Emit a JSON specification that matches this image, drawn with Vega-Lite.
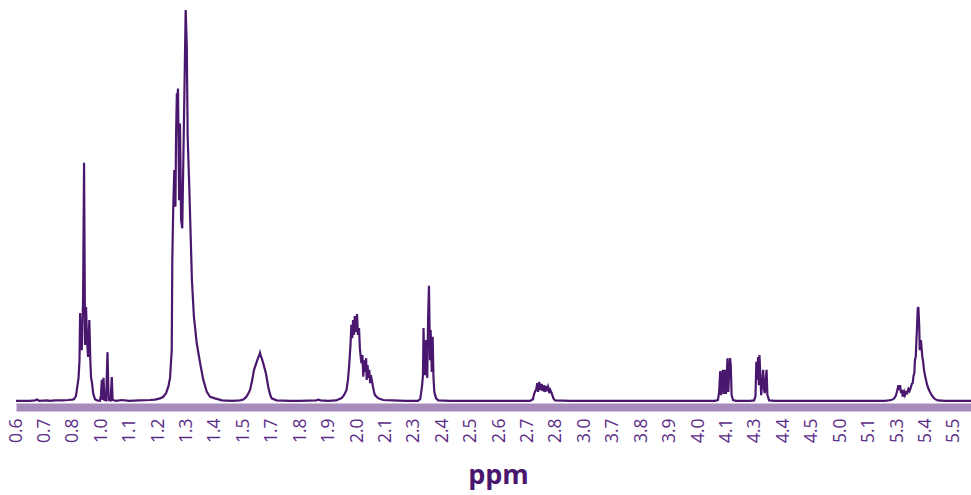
{
  "$schema": "https://vega.github.io/schema/vega-lite/v6.json",
  "width": 955,
  "height": 402,
  "autosize": "none",
  "padding": {"left": 16, "top": 0, "right": 0, "bottom": 93},
  "background": "white",
  "config": {"view": {"stroke": null}},
  "data": {"values": [
    {"ppm": 0.600, "intensity": 0.3}, {"ppm": 0.649, "intensity": 0.3}, {"ppm": 0.667, "intensity": 0.4}, {"ppm": 0.674, "intensity": 0.6}, {"ppm": 0.681, "intensity": 0.3},
    {"ppm": 0.709, "intensity": 0.4}, {"ppm": 0.720, "intensity": 0.3}, {"ppm": 0.737, "intensity": 0.4}, {"ppm": 0.765, "intensity": 0.4}, {"ppm": 0.783, "intensity": 0.5}, {"ppm": 0.797, "intensity": 0.6},
    {"ppm": 0.808, "intensity": 0.7}, {"ppm": 0.822, "intensity": 1.5}, {"ppm": 0.833, "intensity": 4.2}, {"ppm": 0.840, "intensity": 6.0}, {"ppm": 0.847, "intensity": 10.4}, {"ppm": 0.851, "intensity": 22.1},
    {"ppm": 0.858, "intensity": 14.2}, {"ppm": 0.863, "intensity": 12.9}, {"ppm": 0.872, "intensity": 25.4}, {"ppm": 0.879, "intensity": 59.5}, {"ppm": 0.886, "intensity": 14.2}, {"ppm": 0.893, "intensity": 23.6},
    {"ppm": 0.900, "intensity": 15.4}, {"ppm": 0.907, "intensity": 11.2}, {"ppm": 0.916, "intensity": 20.4}, {"ppm": 0.923, "intensity": 10.4}, {"ppm": 0.928, "intensity": 6.2}, {"ppm": 0.935, "intensity": 4.7},
    {"ppm": 0.944, "intensity": 2.0}, {"ppm": 0.956, "intensity": 0.7}, {"ppm": 0.970, "intensity": 0.4}, {"ppm": 0.991, "intensity": 0.3}, {"ppm": 0.998, "intensity": 1.7},
    {"ppm": 1.002, "intensity": 5.5}, {"ppm": 1.005, "intensity": 0.5}, {"ppm": 1.008, "intensity": 6.0}, {"ppm": 1.011, "intensity": 0.5}, {"ppm": 1.017, "intensity": 0.4}, {"ppm": 1.022, "intensity": 12.4},
    {"ppm": 1.026, "intensity": 0.5}, {"ppm": 1.033, "intensity": 0.4}, {"ppm": 1.037, "intensity": 6.2}, {"ppm": 1.040, "intensity": 0.5}, {"ppm": 1.052, "intensity": 0.3}, {"ppm": 1.073, "intensity": 0.5},
    {"ppm": 1.098, "intensity": 0.3}, {"ppm": 1.136, "intensity": 0.4}, {"ppm": 1.171, "intensity": 0.5}, {"ppm": 1.189, "intensity": 0.6},
    {"ppm": 1.207, "intensity": 0.9}, {"ppm": 1.218, "intensity": 1.3}, {"ppm": 1.228, "intensity": 2.2}, {"ppm": 1.236, "intensity": 3.8}, {"ppm": 1.242, "intensity": 6.0}, {"ppm": 1.248, "intensity": 12.9},
    {"ppm": 1.250, "intensity": 35.3}, {"ppm": 1.252, "intensity": 43.6}, {"ppm": 1.254, "intensity": 50.2}, {"ppm": 1.257, "intensity": 57.7}, {"ppm": 1.261, "intensity": 48.6}, {"ppm": 1.263, "intensity": 65.2},
    {"ppm": 1.266, "intensity": 76.8}, {"ppm": 1.268, "intensity": 75.1}, {"ppm": 1.270, "intensity": 78.0}, {"ppm": 1.274, "intensity": 50.2}, {"ppm": 1.277, "intensity": 69.3}, {"ppm": 1.281, "intensity": 45.3},
    {"ppm": 1.285, "intensity": 43.2}, {"ppm": 1.289, "intensity": 61.0}, {"ppm": 1.294, "intensity": 83.4}, {"ppm": 1.297, "intensity": 97.5}, {"ppm": 1.301, "intensity": 88.4},
    {"ppm": 1.304, "intensity": 66.0}, {"ppm": 1.310, "intensity": 52.7}, {"ppm": 1.315, "intensity": 40.3}, {"ppm": 1.319, "intensity": 30.3}, {"ppm": 1.326, "intensity": 21.2}, {"ppm": 1.336, "intensity": 14.6},
    {"ppm": 1.348, "intensity": 9.6}, {"ppm": 1.359, "intensity": 5.5}, {"ppm": 1.371, "intensity": 2.6}, {"ppm": 1.383, "intensity": 1.3}, {"ppm": 1.400, "intensity": 0.9},
    {"ppm": 1.425, "intensity": 0.4}, {"ppm": 1.460, "intensity": 0.3}, {"ppm": 1.488, "intensity": 0.4},
    {"ppm": 1.500, "intensity": 0.6}, {"ppm": 1.519, "intensity": 1.2}, {"ppm": 1.533, "intensity": 2.0}, {"ppm": 1.547, "intensity": 3.0}, {"ppm": 1.561, "intensity": 5.2}, {"ppm": 1.575, "intensity": 8.0},
    {"ppm": 1.594, "intensity": 10.0}, {"ppm": 1.606, "intensity": 11.2}, {"ppm": 1.612, "intensity": 11.6}, {"ppm": 1.617, "intensity": 12.2}, {"ppm": 1.623, "intensity": 11.4}, {"ppm": 1.629, "intensity": 10.9}, {"ppm": 1.640, "intensity": 9.6}, {"ppm": 1.659, "intensity": 7.1},
    {"ppm": 1.675, "intensity": 3.8}, {"ppm": 1.687, "intensity": 2.0}, {"ppm": 1.699, "intensity": 0.9},
    {"ppm": 1.717, "intensity": 0.4}, {"ppm": 1.764, "intensity": 0.3}, {"ppm": 1.799, "intensity": 0.3},
    {"ppm": 1.856, "intensity": 0.4}, {"ppm": 1.864, "intensity": 0.6}, {"ppm": 1.871, "intensity": 0.4}, {"ppm": 1.898, "intensity": 0.3},
    {"ppm": 1.926, "intensity": 0.4}, {"ppm": 1.946, "intensity": 1.0}, {"ppm": 1.954, "intensity": 1.7}, {"ppm": 1.963, "intensity": 3.0}, {"ppm": 1.968, "intensity": 5.5}, {"ppm": 1.972, "intensity": 8.8},
    {"ppm": 1.977, "intensity": 14.2}, {"ppm": 1.980, "intensity": 19.2}, {"ppm": 1.983, "intensity": 15.9}, {"ppm": 1.986, "intensity": 20.4}, {"ppm": 1.989, "intensity": 16.7}, {"ppm": 1.992, "intensity": 21.4},
    {"ppm": 1.996, "intensity": 17.4}, {"ppm": 2.000, "intensity": 21.9},
    {"ppm": 2.003, "intensity": 16.7}, {"ppm": 2.007, "intensity": 18.4}, {"ppm": 2.010, "intensity": 13.4}, {"ppm": 2.014, "intensity": 10.4}, {"ppm": 2.016, "intensity": 9.6}, {"ppm": 2.019, "intensity": 11.7},
    {"ppm": 2.022, "intensity": 6.3}, {"ppm": 2.025, "intensity": 10.4}, {"ppm": 2.028, "intensity": 7.5}, {"ppm": 2.032, "intensity": 10.9}, {"ppm": 2.034, "intensity": 5.5}, {"ppm": 2.037, "intensity": 9.2},
    {"ppm": 2.040, "intensity": 6.0}, {"ppm": 2.043, "intensity": 8.0}, {"ppm": 2.046, "intensity": 4.7}, {"ppm": 2.049, "intensity": 6.7}, {"ppm": 2.055, "intensity": 4.2}, {"ppm": 2.060, "intensity": 2.5},
    {"ppm": 2.063, "intensity": 1.7}, {"ppm": 2.075, "intensity": 0.9}, {"ppm": 2.092, "intensity": 0.5},
    {"ppm": 2.153, "intensity": 0.4}, {"ppm": 2.238, "intensity": 0.3}, {"ppm": 2.294, "intensity": 0.3},
    {"ppm": 2.314, "intensity": 0.3}, {"ppm": 2.322, "intensity": 0.7}, {"ppm": 2.325, "intensity": 2.0}, {"ppm": 2.329, "intensity": 4.2}, {"ppm": 2.332, "intensity": 6.7}, {"ppm": 2.334, "intensity": 18.4},
    {"ppm": 2.337, "intensity": 8.0}, {"ppm": 2.340, "intensity": 6.7}, {"ppm": 2.343, "intensity": 15.4}, {"ppm": 2.347, "intensity": 6.0}, {"ppm": 2.350, "intensity": 20.4}, {"ppm": 2.353, "intensity": 28.9},
    {"ppm": 2.357, "intensity": 10.4}, {"ppm": 2.359, "intensity": 17.9}, {"ppm": 2.363, "intensity": 7.5}, {"ppm": 2.366, "intensity": 16.2}, {"ppm": 2.369, "intensity": 6.0}, {"ppm": 2.372, "intensity": 2.5},
    {"ppm": 2.378, "intensity": 0.9}, {"ppm": 2.386, "intensity": 0.4}, {"ppm": 2.427, "intensity": 0.3}, {"ppm": 2.533, "intensity": 0.3}, {"ppm": 2.638, "intensity": 0.3},
    {"ppm": 2.709, "intensity": 0.3}, {"ppm": 2.719, "intensity": 0.7}, {"ppm": 2.722, "intensity": 1.7}, {"ppm": 2.726, "intensity": 2.6}, {"ppm": 2.730, "intensity": 3.0}, {"ppm": 2.734, "intensity": 4.7},
    {"ppm": 2.737, "intensity": 2.5}, {"ppm": 2.741, "intensity": 5.0}, {"ppm": 2.745, "intensity": 3.0}, {"ppm": 2.750, "intensity": 4.5}, {"ppm": 2.753, "intensity": 2.7}, {"ppm": 2.757, "intensity": 4.2},
    {"ppm": 2.760, "intensity": 2.5}, {"ppm": 2.764, "intensity": 4.0}, {"ppm": 2.767, "intensity": 2.7}, {"ppm": 2.772, "intensity": 3.8}, {"ppm": 2.777, "intensity": 2.2}, {"ppm": 2.780, "intensity": 3.0},
    {"ppm": 2.785, "intensity": 2.2}, {"ppm": 2.791, "intensity": 0.9}, {"ppm": 2.797, "intensity": 0.4},
    {"ppm": 2.899, "intensity": 0.3}, {"ppm": 3.384, "intensity": 0.3}, {"ppm": 3.831, "intensity": 0.3},
    {"ppm": 4.007, "intensity": 0.3}, {"ppm": 4.060, "intensity": 0.3}, {"ppm": 4.070, "intensity": 0.5}, {"ppm": 4.074, "intensity": 2.5}, {"ppm": 4.078, "intensity": 7.7}, {"ppm": 4.081, "intensity": 1.7},
    {"ppm": 4.084, "intensity": 5.5}, {"ppm": 4.087, "intensity": 8.0}, {"ppm": 4.090, "intensity": 2.0}, {"ppm": 4.093, "intensity": 6.0}, {"ppm": 4.095, "intensity": 8.0}, {"ppm": 4.098, "intensity": 2.0},
    {"ppm": 4.102, "intensity": 6.7}, {"ppm": 4.107, "intensity": 10.9}, {"ppm": 4.113, "intensity": 2.5}, {"ppm": 4.119, "intensity": 8.0}, {"ppm": 4.125, "intensity": 10.9}, {"ppm": 4.130, "intensity": 9.2},
    {"ppm": 4.136, "intensity": 1.7}, {"ppm": 4.146, "intensity": 0.5}, {"ppm": 4.167, "intensity": 0.3}, {"ppm": 4.265, "intensity": 0.3}, {"ppm": 4.294, "intensity": 0.4},
    {"ppm": 4.302, "intensity": 1.5}, {"ppm": 4.305, "intensity": 10.0}, {"ppm": 4.308, "intensity": 5.5}, {"ppm": 4.311, "intensity": 11.2}, {"ppm": 4.314, "intensity": 4.2}, {"ppm": 4.316, "intensity": 11.7},
    {"ppm": 4.319, "intensity": 6.7}, {"ppm": 4.322, "intensity": 1.7}, {"ppm": 4.326, "intensity": 5.5}, {"ppm": 4.329, "intensity": 8.0}, {"ppm": 4.332, "intensity": 3.0}, {"ppm": 4.335, "intensity": 2.2},
    {"ppm": 4.338, "intensity": 5.5}, {"ppm": 4.341, "intensity": 8.0}, {"ppm": 4.344, "intensity": 1.7}, {"ppm": 4.350, "intensity": 0.4}, {"ppm": 4.371, "intensity": 0.3},
    {"ppm": 4.645, "intensity": 0.3}, {"ppm": 5.070, "intensity": 0.3},
    {"ppm": 5.215, "intensity": 0.3}, {"ppm": 5.258, "intensity": 0.5}, {"ppm": 5.274, "intensity": 0.7}, {"ppm": 5.286, "intensity": 1.2}, {"ppm": 5.293, "intensity": 1.7},
    {"ppm": 5.302, "intensity": 3.2}, {"ppm": 5.305, "intensity": 4.2}, {"ppm": 5.308, "intensity": 3.0}, {"ppm": 5.311, "intensity": 4.2}, {"ppm": 5.314, "intensity": 2.2}, {"ppm": 5.318, "intensity": 3.0},
    {"ppm": 5.320, "intensity": 1.3}, {"ppm": 5.325, "intensity": 2.5}, {"ppm": 5.328, "intensity": 1.7}, {"ppm": 5.332, "intensity": 2.5}, {"ppm": 5.336, "intensity": 2.2}, {"ppm": 5.340, "intensity": 3.2},
    {"ppm": 5.344, "intensity": 2.7}, {"ppm": 5.348, "intensity": 3.5}, {"ppm": 5.352, "intensity": 4.5}, {"ppm": 5.355, "intensity": 4.7}, {"ppm": 5.358, "intensity": 6.5}, {"ppm": 5.361, "intensity": 7.2},
    {"ppm": 5.363, "intensity": 10.4}, {"ppm": 5.366, "intensity": 11.3}, {"ppm": 5.368, "intensity": 14.9}, {"ppm": 5.370, "intensity": 17.9}, {"ppm": 5.373, "intensity": 23.3}, {"ppm": 5.375, "intensity": 23.6},
    {"ppm": 5.378, "intensity": 19.2}, {"ppm": 5.380, "intensity": 12.9}, {"ppm": 5.383, "intensity": 14.2}, {"ppm": 5.384, "intensity": 15.4}, {"ppm": 5.387, "intensity": 12.9}, {"ppm": 5.389, "intensity": 11.3},
    {"ppm": 5.392, "intensity": 10.0}, {"ppm": 5.395, "intensity": 8.0}, {"ppm": 5.398, "intensity": 6.7},
    {"ppm": 5.402, "intensity": 5.5}, {"ppm": 5.405, "intensity": 4.5}, {"ppm": 5.410, "intensity": 3.4}, {"ppm": 5.416, "intensity": 2.5}, {"ppm": 5.422, "intensity": 1.7}, {"ppm": 5.428, "intensity": 1.1},
    {"ppm": 5.434, "intensity": 0.7}, {"ppm": 5.444, "intensity": 0.4}, {"ppm": 5.469, "intensity": 0.3}, {"ppm": 5.560, "intensity": 0.3}
  ]},
  "mark": {"type": "line", "color": "#4a176e", "strokeWidth": 2.2, "clip": true},
  "encoding": {
    "x": {
      "field": "ppm",
      "type": "quantitative",
      "scale": {
        "domain": [0.6, 0.7, 0.8, 1.0, 1.1, 1.2, 1.3, 1.4, 1.5, 1.7, 1.8, 1.9, 2.0, 2.1, 2.3, 2.4, 2.5, 2.6, 2.7, 2.8, 3.0, 3.7, 3.8, 3.9, 4.0, 4.1, 4.3, 4.4, 4.5, 5.0, 5.1, 5.3, 5.4, 5.5, 5.56],
        "range": [0, 28.42, 56.84, 85.26, 113.68, 142.1, 170.52, 198.94, 227.36, 255.78, 284.2, 312.62, 341.04, 369.46, 397.88, 426.3, 454.72, 483.14, 511.56, 539.98, 568.4, 596.82, 625.24, 653.66, 682.08, 710.5, 738.92, 767.34, 795.76, 824.18, 852.6, 881.02, 909.44, 937.86, 955],
        "zero": false,
        "nice": false
      },
      "axis": {
        "values": [0.6, 0.7, 0.8, 1.0, 1.1, 1.2, 1.3, 1.4, 1.5, 1.7, 1.8, 1.9, 2.0, 2.1, 2.3, 2.4, 2.5, 2.6, 2.7, 2.8, 3.0, 3.7, 3.8, 3.9, 4.0, 4.1, 4.3, 4.4, 4.5, 5.0, 5.1, 5.3, 5.4, 5.5],
        "format": ".1f",
        "labelAngle": -90,
        "labelAlign": "right",
        "labelBaseline": "middle",
        "labelFont": "Open Sans",
        "labelFontSize": 17.5,
        "labelColor": "#5b2c87",
        "labelPadding": 11,
        "labelOverlap": false,
        "labelFlush": false,
        "ticks": false,
        "tickSize": 0,
        "grid": false,
        "domain": true,
        "domainColor": "#a68bbb",
        "domainWidth": 8,
        "offset": 5,
        "title": "ppm",
        "titleFont": "Open Sans",
        "titleFontSize": 27,
        "titleFontWeight": "bold",
        "titleColor": "#4a176e",
        "titlePadding": 20,
        "titleX": 482
      }
    },
    "y": {
      "field": "intensity",
      "type": "quantitative",
      "scale": {"domain": [0, 100], "zero": true, "nice": false},
      "axis": null
    }
  }
}
